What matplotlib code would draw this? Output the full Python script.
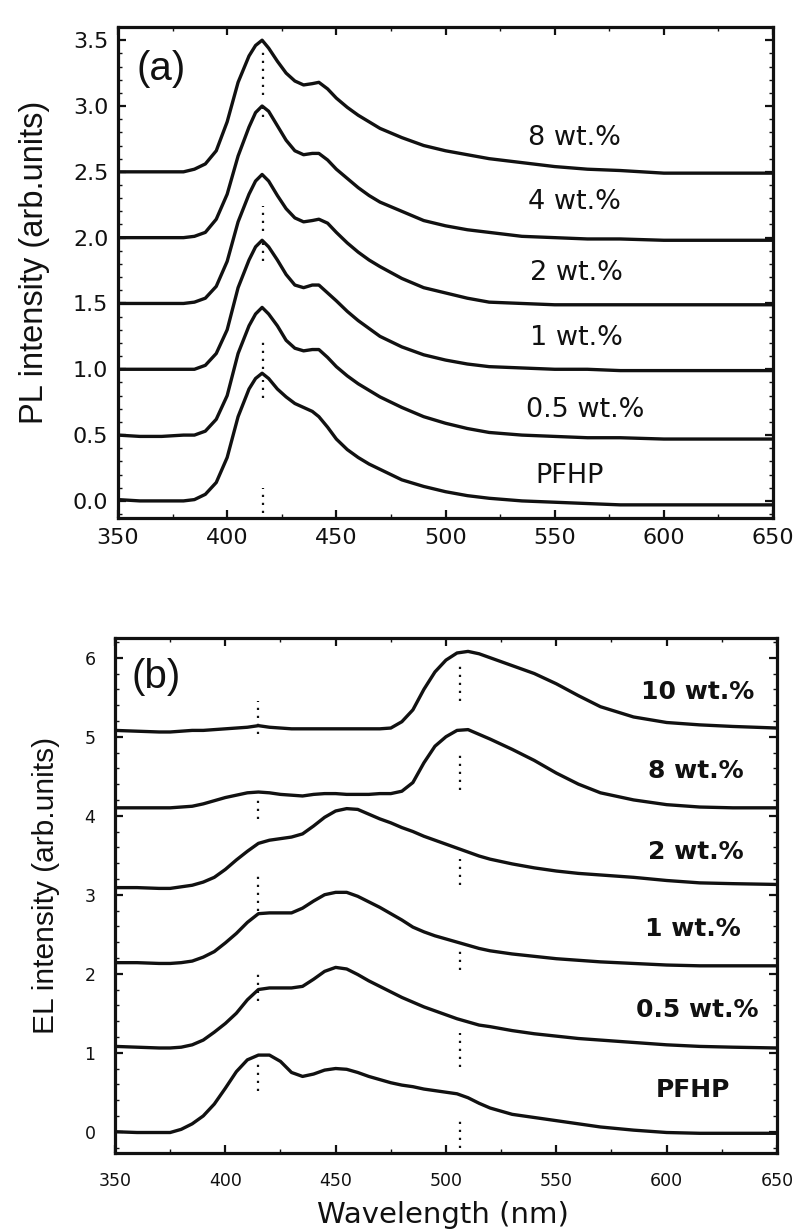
import matplotlib

matplotlib.use("Agg")
import matplotlib.pyplot as plt
from matplotlib.ticker import FormatStrFormatter, MultipleLocator


# ---- panel (a): PL spectra, wavelength grid in nm ----
PL_WL = [350, 360, 370, 380, 385, 390, 395, 400, 405, 410, 413, 416, 419, 423,
         427, 431, 435, 439, 442, 446, 450, 455, 460, 465, 470, 480, 490, 500,
         510, 520, 535, 550, 565, 580, 600, 625, 650]

PL_PFHP = [0.01, 0.0, 0.0, 0.0, 0.01, 0.05, 0.14, 0.33, 0.64, 0.85, 0.93, 0.97,
           0.93, 0.85, 0.79, 0.74, 0.71, 0.68, 0.64, 0.56, 0.47, 0.39, 0.33,
           0.28, 0.24, 0.16, 0.11, 0.07, 0.04, 0.02, 0.0, -0.01, -0.02, -0.03,
           -0.03, -0.03, -0.03]
PL_05 = [0.5, 0.49, 0.49, 0.5, 0.5, 0.53, 0.62, 0.80, 1.12, 1.33, 1.42, 1.47,
         1.42, 1.33, 1.22, 1.16, 1.14, 1.15, 1.15, 1.09, 1.02, 0.95, 0.89, 0.84,
         0.79, 0.71, 0.64, 0.59, 0.55, 0.52, 0.50, 0.49, 0.48, 0.48, 0.47, 0.47,
         0.47]
PL_1 = [1.0, 1.0, 1.0, 1.0, 1.0, 1.03, 1.12, 1.3, 1.62, 1.83, 1.93, 1.98, 1.93,
        1.83, 1.72, 1.64, 1.62, 1.64, 1.64, 1.58, 1.52, 1.44, 1.37, 1.31, 1.25,
        1.17, 1.11, 1.07, 1.04, 1.02, 1.01, 1.0, 1.0, 0.99, 0.99, 0.99, 0.99]
PL_2 = [1.5, 1.5, 1.5, 1.5, 1.51, 1.54, 1.63, 1.82, 2.12, 2.33, 2.43, 2.48, 2.43,
        2.32, 2.22, 2.15, 2.12, 2.13, 2.14, 2.11, 2.04, 1.96, 1.89, 1.83, 1.78,
        1.69, 1.62, 1.58, 1.54, 1.51, 1.50, 1.49, 1.49, 1.49, 1.49, 1.49, 1.49]
PL_4 = [2.0, 2.0, 2.0, 2.0, 2.01, 2.04, 2.14, 2.33, 2.62, 2.84, 2.95, 3.0, 2.96,
        2.85, 2.74, 2.66, 2.63, 2.64, 2.64, 2.59, 2.52, 2.45, 2.38, 2.32, 2.27,
        2.2, 2.13, 2.09, 2.06, 2.04, 2.01, 2.0, 1.99, 1.99, 1.98, 1.98, 1.98]
PL_8 = [2.5, 2.5, 2.5, 2.5, 2.52, 2.56, 2.66, 2.88, 3.18, 3.38, 3.46, 3.5, 3.44,
        3.34, 3.25, 3.19, 3.16, 3.17, 3.18, 3.13, 3.06, 2.99, 2.93, 2.88, 2.83,
        2.76, 2.70, 2.66, 2.63, 2.60, 2.57, 2.54, 2.52, 2.51, 2.49, 2.49, 2.49]

PL_SERIES = [PL_PFHP, PL_05, PL_1, PL_2, PL_4, PL_8]
PL_LABELS = ["PFHP", "0.5 wt.%", "1 wt.%", "2 wt.%", "4 wt.%", "8 wt.%"]
PL_LABEL_X = [557, 564, 560, 560, 559, 559]
PL_LABEL_Y = [0.19, 0.69, 1.24, 1.73, 2.27, 2.76]
PL_MARK_WL = 416.5
PL_MARK_SEGS = [(-0.09, 0.10), (0.78, 0.92), (1.0, 1.22), (1.82, 1.96),
                (2.05, 2.24), (2.92, 3.0), (3.08, 3.45)]

# ---- panel (b): EL spectra ----
EL_WL = [350, 360, 370, 375, 380, 385, 390, 395, 400, 405, 410, 415, 420, 425,
         430, 435, 440, 445, 450, 455, 460, 465, 470, 475, 480, 485, 490, 495,
         500, 505, 510, 515, 520, 530, 540, 550, 560, 570, 585, 600, 615, 630,
         650]

EL_PFHP = [0.0, -0.01, -0.01, -0.01, 0.03, 0.1, 0.2, 0.35, 0.55, 0.76, 0.91,
           0.97, 0.97, 0.89, 0.75, 0.70, 0.73, 0.78, 0.8, 0.79, 0.75, 0.70,
           0.66, 0.62, 0.59, 0.57, 0.54, 0.52, 0.50, 0.48, 0.43, 0.36, 0.3,
           0.22, 0.18, 0.14, 0.1, 0.06, 0.02, -0.01, -0.02, -0.02, -0.02]
EL_05 = [1.08, 1.07, 1.06, 1.06, 1.07, 1.1, 1.16, 1.26, 1.37, 1.5, 1.67, 1.8,
         1.82, 1.82, 1.82, 1.84, 1.93, 2.03, 2.08, 2.06, 1.99, 1.91, 1.84, 1.77,
         1.70, 1.64, 1.58, 1.53, 1.48, 1.43, 1.39, 1.35, 1.33, 1.28, 1.24, 1.21,
         1.18, 1.16, 1.13, 1.10, 1.08, 1.07, 1.06]
EL_1 = [2.14, 2.14, 2.13, 2.13, 2.14, 2.16, 2.21, 2.28, 2.39, 2.51, 2.65, 2.76,
        2.77, 2.77, 2.77, 2.83, 2.92, 3.0, 3.03, 3.03, 2.98, 2.91, 2.84, 2.76,
        2.68, 2.59, 2.53, 2.48, 2.44, 2.40, 2.36, 2.32, 2.29, 2.25, 2.22, 2.19,
        2.17, 2.15, 2.13, 2.11, 2.10, 2.10, 2.10]
EL_2 = [3.09, 3.09, 3.08, 3.08, 3.1, 3.12, 3.16, 3.22, 3.32, 3.44, 3.55, 3.65,
        3.69, 3.71, 3.73, 3.77, 3.87, 3.98, 4.06, 4.09, 4.08, 4.02, 3.96, 3.91,
        3.85, 3.8, 3.74, 3.69, 3.64, 3.59, 3.54, 3.49, 3.45, 3.39, 3.34, 3.30,
        3.27, 3.25, 3.22, 3.18, 3.15, 3.14, 3.13]
EL_8 = [4.1, 4.1, 4.1, 4.1, 4.11, 4.12, 4.15, 4.19, 4.23, 4.26, 4.29, 4.30, 4.29,
        4.27, 4.26, 4.25, 4.27, 4.28, 4.28, 4.27, 4.27, 4.27, 4.28, 4.28, 4.31,
        4.42, 4.67, 4.88, 5.0, 5.08, 5.09, 5.03, 4.97, 4.84, 4.70, 4.54, 4.4,
        4.29, 4.20, 4.14, 4.11, 4.10, 4.10]
EL_10 = [5.08, 5.07, 5.06, 5.06, 5.07, 5.08, 5.08, 5.09, 5.1, 5.11, 5.12, 5.14,
         5.12, 5.11, 5.1, 5.1, 5.1, 5.1, 5.1, 5.1, 5.1, 5.1, 5.1, 5.11, 5.19,
         5.34, 5.6, 5.82, 5.97, 6.06, 6.08, 6.05, 6.0, 5.9, 5.8, 5.67, 5.52,
         5.38, 5.25, 5.18, 5.15, 5.13, 5.11]

EL_SERIES = [EL_PFHP, EL_05, EL_1, EL_2, EL_8, EL_10]
EL_LABELS = ["PFHP", "0.5 wt.%", "1 wt.%", "2 wt.%", "8 wt.%", "10 wt.%"]
EL_LABEL_X = [612, 614, 612, 613, 613, 614]
EL_LABEL_Y = [0.53, 1.54, 2.56, 3.54, 4.56, 5.57]
EL_MARK_WL = [415.0, 506.5]
EL_MARK_SEGS = [
    [(0.52, 0.90), (1.65, 2.05), (2.80, 3.27), (3.96, 4.22), (5.03, 5.45)],
    [(-0.2, 0.13), (0.82, 1.25), (2.05, 2.30), (3.12, 3.45), (4.33, 4.80),
     (5.45, 5.90)],
]

LINE_COLOR = "#111111"


def style_axes(ax, tick_size: float, tick_pad: float, y_major: float,
               y_minor: float) -> None:
    ax.set_xlim(350, 650)
    ax.xaxis.set_major_locator(MultipleLocator(50))
    ax.xaxis.set_minor_locator(MultipleLocator(25))
    ax.yaxis.set_major_locator(MultipleLocator(y_major))
    ax.yaxis.set_minor_locator(MultipleLocator(y_minor))
    ax.tick_params(axis="both", which="both", direction="in", top=True,
                   right=True, colors=LINE_COLOR)
    ax.tick_params(axis="both", which="major", length=6, width=1.6,
                   labelsize=tick_size, pad=tick_pad)
    ax.tick_params(axis="both", which="minor", length=3, width=1.0)
    for side in ("top", "right", "bottom", "left"):
        ax.spines[side].set_linewidth(2.3)
        ax.spines[side].set_color(LINE_COLOR)
    for lab in ax.get_xticklabels() + ax.get_yticklabels():
        lab.set_family("DejaVu Sans")


def draw_marks(ax, wl, segs) -> None:
    for lo, hi in segs:
        ax.plot([wl, wl], [lo, hi], color=LINE_COLOR, linewidth=1.6,
                dashes=(1.0, 2.6))


def main() -> None:
    matplotlib.rcParams.update({"font.family": ["Liberation Sans", "DejaVu Sans"]})

    fig = plt.figure(figsize=(7.93, 12.29), dpi=100)
    fig.patch.set_facecolor("white")

    # panel (a)
    ax1 = fig.add_axes([0.1488, 0.5785, 0.826, 0.3995])
    for ys in PL_SERIES:
        ax1.plot(PL_WL, ys, color=LINE_COLOR, linewidth=2.4)
    draw_marks(ax1, PL_MARK_WL, PL_MARK_SEGS)
    for x, y, s in zip(PL_LABEL_X, PL_LABEL_Y, PL_LABELS):
        ax1.text(x, y, s, ha="center", va="center", fontsize=19.5,
                 family="DejaVu Sans", color=LINE_COLOR)
    ax1.text(358.5, 3.28, "(a)", ha="left", va="center", fontsize=29,
             color=LINE_COLOR)
    ax1.set_ylim(-0.13, 3.6)
    style_axes(ax1, 16, 7, 0.5, 0.1)
    ax1.yaxis.set_major_formatter(FormatStrFormatter("%.1f"))
    ax1.set_ylabel("PL intensity (arb.units)", fontsize=23.5, color=LINE_COLOR)
    ax1.yaxis.set_label_coords(-0.104, 0.52)

    # panel (b)
    ax2 = fig.add_axes([0.145, 0.0618, 0.8348, 0.4191])
    for ys in EL_SERIES:
        ax2.plot(EL_WL, ys, color=LINE_COLOR, linewidth=2.4)
    for wl, segs in zip(EL_MARK_WL, EL_MARK_SEGS):
        draw_marks(ax2, wl, segs)
    for x, y, s in zip(EL_LABEL_X, EL_LABEL_Y, EL_LABELS):
        ax2.text(x, y, s, ha="center", va="center", fontsize=18,
                 family="DejaVu Sans", fontweight="bold", color=LINE_COLOR)
    ax2.text(357.7, 5.75, "(b)", ha="left", va="center", fontsize=29,
             color=LINE_COLOR)
    ax2.set_ylim(-0.27, 6.25)
    style_axes(ax2, 12.5, 14, 1, 0.2)
    ax2.set_ylabel("EL intensity (arb.units)", fontsize=21.5, color=LINE_COLOR)
    ax2.yaxis.set_label_coords(-0.083, 0.52)
    ax2.set_xlabel("Wavelength (nm)", fontsize=21, family="DejaVu Sans",
                   color=LINE_COLOR)
    ax2.xaxis.set_label_coords(0.495, -0.093)

    fig.savefig("out.png", dpi=100)
    plt.close(fig)


if __name__ == "__main__":
    main()
